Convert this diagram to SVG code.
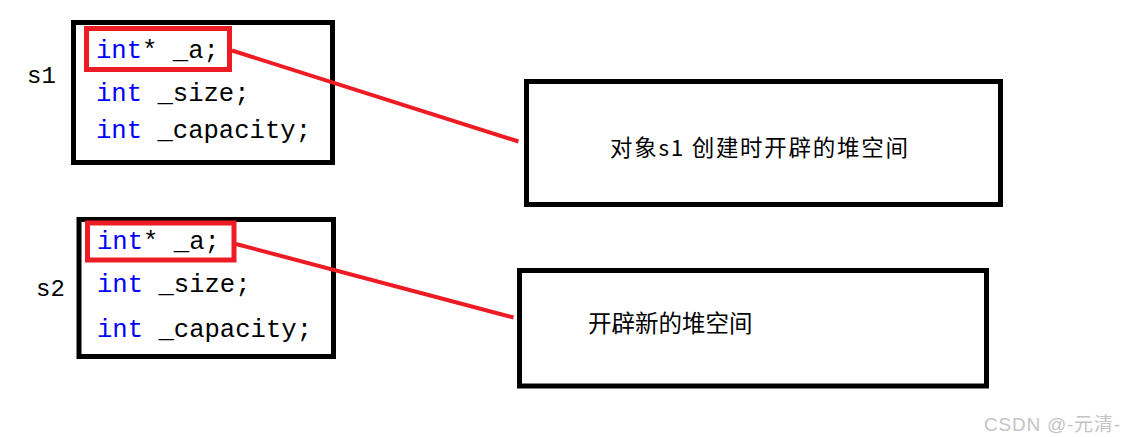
<svg xmlns="http://www.w3.org/2000/svg" width="1128" height="437" viewBox="0 0 1128 437">
<style>
.box{fill:none;stroke:#000;stroke-width:5}
.hl{fill:none;stroke:#ed1c24;stroke-width:5}
.code{font-family:"Liberation Mono",monospace;font-size:25.6px;fill:#000}
.kw{fill:#0000ff}
.lbl{font-family:"Liberation Mono",monospace;font-size:24px;fill:#000}
.cn{font-family:"Noto Sans CJK SC",sans-serif;fill:#000}
.conn{stroke:#ed1c24;stroke-width:4;stroke-linecap:butt;fill:none}
</style>
<rect width="1128" height="437" fill="#fff"/>
<g id="s1">
<rect class="box" x="73.5" y="22.5" width="259" height="140"/>
<rect class="hl" x="86.5" y="28.5" width="143" height="41"/>
<text class="lbl" x="27" y="83">s1</text>
<text class="code" x="96" y="58"><tspan class="kw">int</tspan>* _a;</text>
<text class="code" x="96" y="101"><tspan class="kw">int</tspan> _size;</text>
<text class="code" x="96" y="138"><tspan class="kw">int</tspan> _capacity;</text>
</g>
<g id="s2">
<rect class="box" x="79" y="219.5" width="254.5" height="137"/>
<rect class="hl" x="87.5" y="223" width="146.5" height="37"/>
<text class="lbl" x="36" y="296">s2</text>
<text class="code" x="97" y="249"><tspan class="kw">int</tspan>* _a;</text>
<text class="code" x="97" y="292"><tspan class="kw">int</tspan> _size;</text>
<text class="code" x="97" y="337"><tspan class="kw">int</tspan> _capacity;</text>
</g>
<g id="heap1">
<rect class="box" x="526.5" y="81.5" width="474" height="123"/>
<text class="cn" x="610" y="156" font-size="22.5" textLength="298" lengthAdjust="spacing">对象s1 创建时开辟的堆空间</text>
</g>
<g id="heap2">
<rect class="box" x="519.5" y="270.5" width="467" height="115.5"/>
<text class="cn" x="588" y="332" font-size="23.5">开辟新的堆空间</text>
</g>
<g id="connectors">
<line class="conn" x1="232" y1="50.5" x2="518.5" y2="141.5"/>
<line class="conn" x1="236" y1="244" x2="513.5" y2="317.5"/>
</g>
<text x="984" y="431" font-family="'Liberation Sans','Noto Sans CJK SC',sans-serif" font-size="19" fill="#c4c4c4" textLength="136" lengthAdjust="spacing">CSDN @-元清-</text>
</svg>
